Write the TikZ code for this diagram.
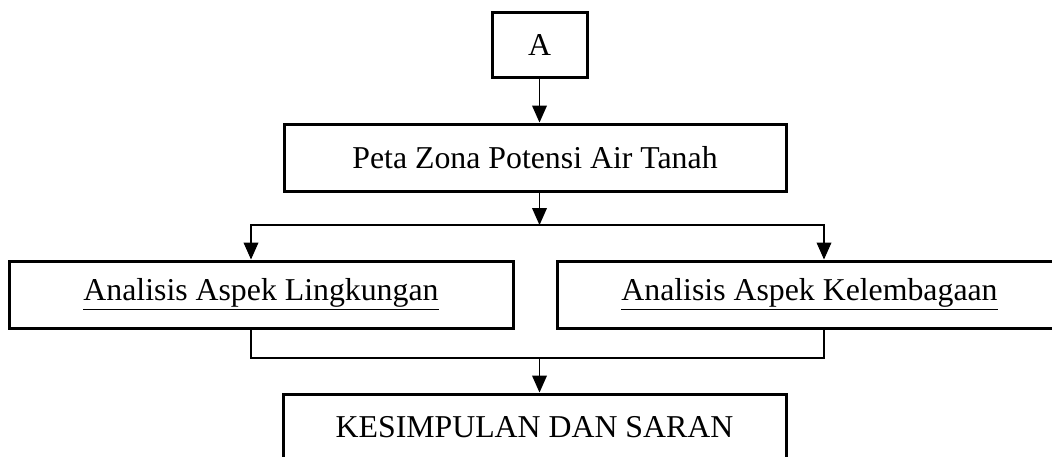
\documentclass[tikz,border=0pt]{standalone}
\usepackage{fontspec}
\setmainfont{Liberation Serif}
\usetikzlibrary{positioning,arrows.meta}
\tikzset{
  kotak/.style={draw, line width=1.5pt, minimum height=33.5pt, inner sep=0pt,
    font=\fontsize{15.9}{19}\selectfont},
  panah/.style={-{Triangle[width=7.4pt,length=8.5pt]}, line width=0.6pt},
  garis/.style={line width=0.6pt}
}
\begin{document}
\begin{tikzpicture}[x=0.5pt,y=-0.5pt]
\useasboundingbox (0,0) rectangle (1052,456);
\node[kotak, minimum width=47.5pt, minimum height=32.5pt] (a) at (539.5,44.5) {A};
\node[kotak, minimum width=251pt] (peta) at (535,157.5) {Peta Zona Potensi Air Tanah};
\node[kotak, minimum width=252pt] (lingk) at (261,294.5) {\underline{Analisis Aspek Lingkungan}};
\node[kotak, minimum width=252pt] (lembaga) at (809.5,294.5) {\underline{Analisis Aspek Kelembagaan}};
\node[kotak, minimum width=251.5pt] (simpul) at (534.5,427.5) {KESIMPULAN DAN SARAN};
\coordinate (cabang) at (539.5,225);
\coordinate (gabung) at (539.5,358);
\coordinate (kiri) at (251,0);
\coordinate (kanan) at (824,0);
\draw[panah] (a) -- (a |- peta.north);
\draw[panah] (cabang |- peta.south) -- (cabang);
\draw[panah] (cabang) -| (kiri |- lingk.north);
\draw[panah] (cabang) -| (kanan |- lembaga.north);
\draw[garis] (kiri |- lingk.south) |- (gabung) -| (kanan |- lembaga.south);
\draw[panah] (gabung) -- (gabung |- simpul.north);
\end{tikzpicture}
\end{document}
